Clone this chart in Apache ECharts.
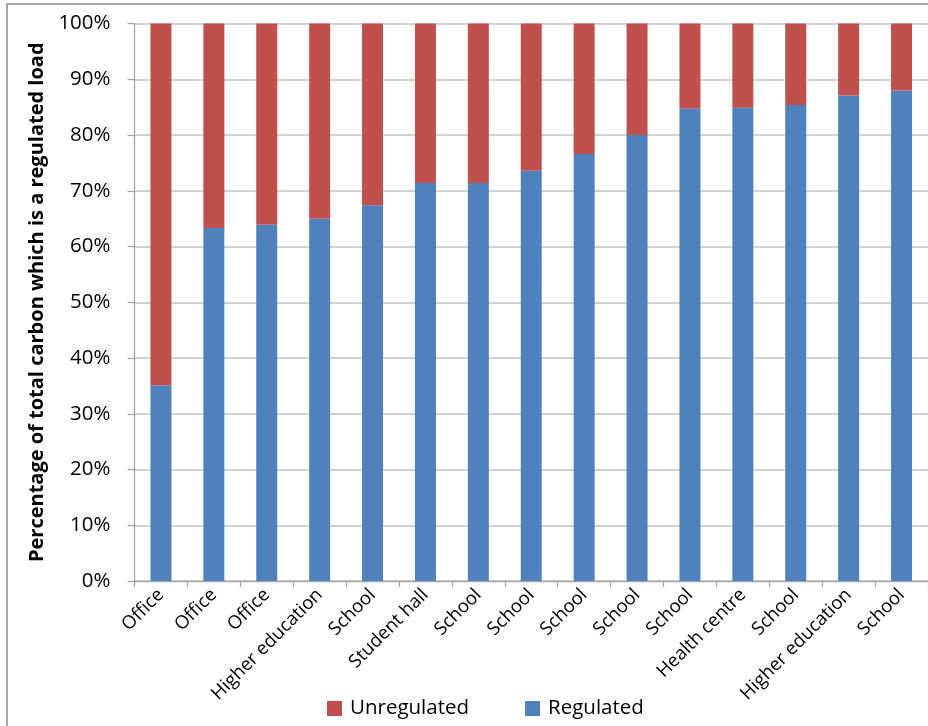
<!DOCTYPE html>
<html>
<head>
<meta charset="utf-8">
<script src="https://cdn.jsdelivr.net/npm/echarts@6/dist/echarts.min.js"></script>
<style>
  html, body { margin: 0; padding: 0; background: #fff; }
  #chart { width: 928px; height: 726px; }
</style>
</head>
<body>
<div id="chart"></div>
<script>
// Building types, in the order plotted
const categories = [
  'Office', 'Office', 'Office', 'Higher education', 'School', 'Student hall',
  'School', 'School', 'School', 'School', 'School', 'Health centre',
  'School', 'Higher education', 'School'
];
// Share of total carbon from regulated loads (%)
const regulated = [35.1, 63.3, 63.9, 65.0, 67.4, 71.4, 71.4, 73.6, 76.6, 80.0, 84.7, 84.9, 85.4, 87.1, 88.0];
// Remaining unregulated share (%)
const unregulated = regulated.map(v => +(100 - v).toFixed(1));
const yTicks = [0, 10, 20, 30, 40, 50, 60, 70, 80, 90, 100];

const FONT = '"Open Sans", "Liberation Sans", sans-serif';
const chart = echarts.init(document.getElementById('chart'));

chart.setOption({
  animation: false,
  backgroundColor: '#fff',
  graphic: [{
    type: 'rect',
    shape: { x: 7, y: 4, width: 960, height: 760 },
    style: { fill: 'none', stroke: '#8a8a8a', lineWidth: 1.5 },
    silent: true
  }],
  legend: {
    data: ['Unregulated', 'Regulated'],
    bottom: 2,
    left: 322,
    itemWidth: 15,
    itemHeight: 15,
    itemGap: 56,
    icon: 'rect',
    textStyle: { fontFamily: FONT, fontSize: 20.5, color: '#000', padding: [0, 0, 0, 3] }
  },
  grid: { left: 134.5, top: 23.5, width: 797, height: 557.5, containLabel: false },
  xAxis: {
    type: 'category',
    data: categories,
    boundaryGap: true,
    axisLine: { lineStyle: { color: '#a6a6a6', width: 1.3 } },
    axisTick: { show: true, alignWithLabel: false, length: 6, lineStyle: { color: '#a6a6a6', width: 1.3 } },
    axisLabel: {
      interval: 0,
      rotate: 45,
      margin: 11,
      fontFamily: FONT,
      fontSize: 18.5,
      color: '#000'
    },
    splitLine: { show: false }
  },
  yAxis: {
    type: 'value',
    min: 0,
    max: 100,
    interval: 10,
    name: 'Percentage of total carbon which is a regulated load',
    nameLocation: 'middle',
    nameGap: 80,
    nameTextStyle: { fontFamily: FONT, fontSize: 20, fontWeight: 'bold', color: '#000' },
    axisLine: { show: true, lineStyle: { color: '#a6a6a6', width: 1.3 } },
    axisTick: { show: true, length: 7, lineStyle: { color: '#a6a6a6', width: 1.3 } },
    axisLabel: {
      margin: 24,
      fontFamily: FONT,
      fontSize: 20.5,
      color: '#000',
      formatter: v => (yTicks.includes(v) ? v + '%' : '')
    },
    splitLine: { show: true, lineStyle: { color: '#c4c4c4', width: 1.5 } }
  },
  series: [
    {
      name: 'Regulated',
      type: 'bar',
      stack: 'total',
      barWidth: 21,
      data: regulated,
      itemStyle: { color: '#4F81BD' }
    },
    {
      name: 'Unregulated',
      type: 'bar',
      stack: 'total',
      barWidth: 21,
      data: unregulated,
      itemStyle: { color: '#C0504D' }
    }
  ]
});
</script>
</body>
</html>
